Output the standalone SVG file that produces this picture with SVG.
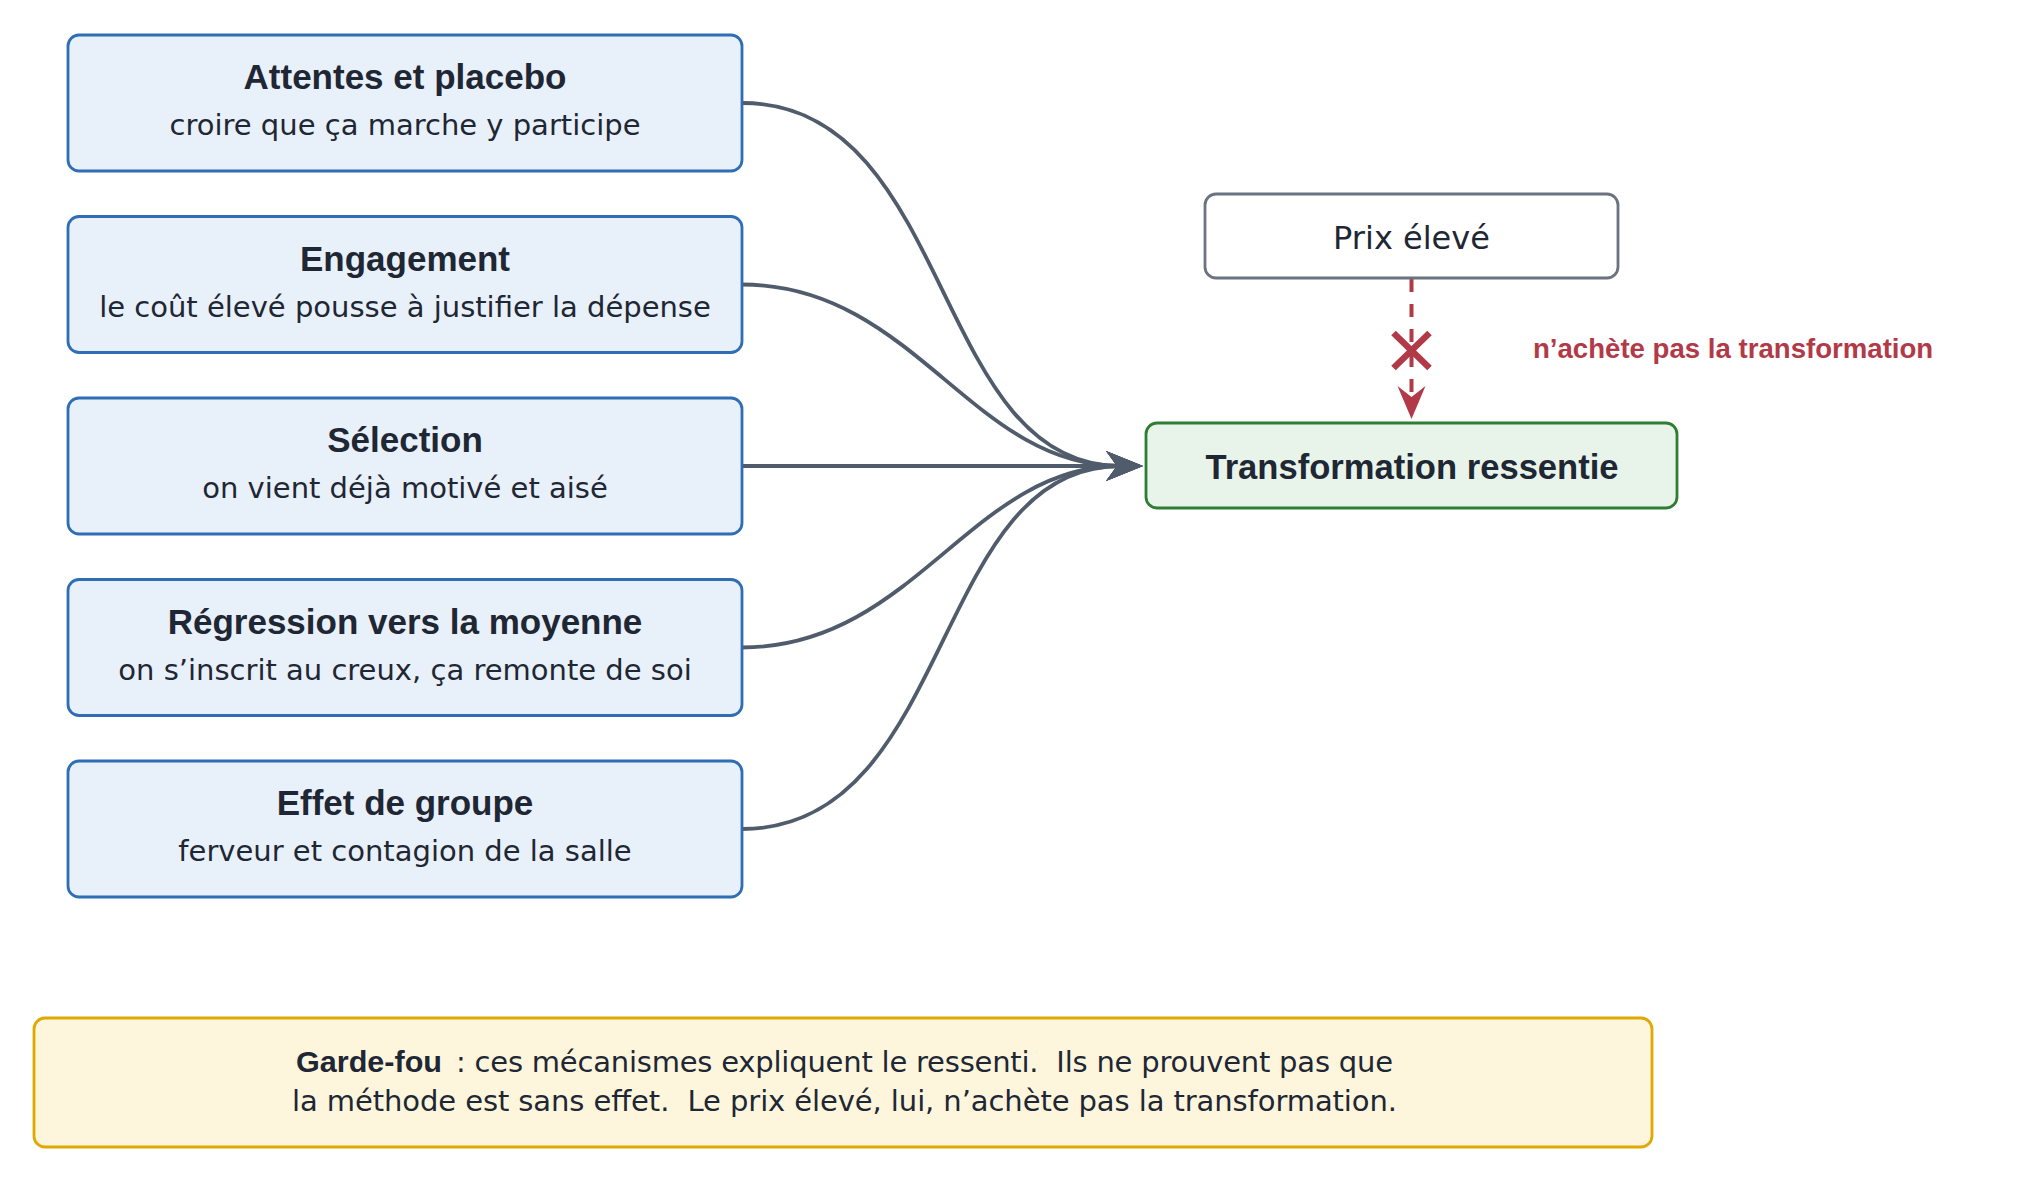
<svg xmlns="http://www.w3.org/2000/svg" width="2041" height="1182" viewBox="0 0 2041 1182">
<defs>
<style>
.src rect{fill:#e8f0fa;stroke:#2f6db5;stroke-width:2.8}
.t{font-family:"Liberation Sans",Arial,sans-serif;font-weight:bold;fill:#1e2733;text-anchor:middle}
.r{font-family:"DejaVu Sans",sans-serif;fill:#1e2733;text-anchor:middle}
.edge{fill:none;stroke:#505c6b;stroke-width:3.8}
</style>
<marker id="ah" markerUnits="userSpaceOnUse" markerWidth="44" markerHeight="44" viewBox="-18 -22 44 44" refX="0" refY="0" orient="auto">
<path d="M23,0 L-14,-15 L-3,0 L-14,15 Z" fill="#505c6b"/>
</marker>
<marker id="ahr" markerUnits="userSpaceOnUse" markerWidth="44" markerHeight="44" viewBox="-22 -22 44 44" refX="0" refY="0" orient="auto">
<path d="M21,0 L-12,-14 L-1,0 L-12,14 Z" fill="#b23a48"/>
</marker>
</defs>
<rect width="2041" height="1182" fill="#ffffff"/>

<g id="connectors">
<path class="edge" d="M742,103 C954,103 931,466 1120,466" marker-end="url(#ah)"/>
<path class="edge" d="M742,284.5 C914,284.5 971,466 1120,466" marker-end="url(#ah)"/>
<path class="edge" d="M742,466 L1120,466" marker-end="url(#ah)"/>
<path class="edge" d="M742,647.5 C914,647.5 971,466 1120,466" marker-end="url(#ah)"/>
<path class="edge" d="M742,829 C954,829 931,466 1120,466" marker-end="url(#ah)"/>
<path d="M1411.5,279 L1411.5,398" fill="none" stroke="#b23a48" stroke-width="4" stroke-dasharray="13 12" marker-end="url(#ahr)"/>
<path d="M1393.5,333 L1429.5,368 M1429.5,333 L1393.5,368" stroke="#b23a48" stroke-width="6.5" fill="none"/>
<text x="1533" y="358" font-family="Liberation Sans, Arial, sans-serif" font-weight="bold" font-size="27.6" fill="#b23a48">n’achète pas la transformation</text>
</g>

<g id="n1" class="src">
<rect x="68" y="35" width="674" height="136" rx="11"/>
<text class="t" x="405" y="89" font-size="35">Attentes et placebo</text>
<text class="r" x="405" y="135" font-size="29">croire que ça marche y participe</text>
</g>
<g id="n2" class="src">
<rect x="68" y="216.5" width="674" height="136" rx="11"/>
<text class="t" x="405" y="270.5" font-size="35">Engagement</text>
<text class="r" x="405" y="316.5" font-size="29">le coût élevé pousse à justifier la dépense</text>
</g>
<g id="n3" class="src">
<rect x="68" y="398" width="674" height="136" rx="11"/>
<text class="t" x="405" y="452" font-size="35">Sélection</text>
<text class="r" x="405" y="498" font-size="29">on vient déjà motivé et aisé</text>
</g>
<g id="n4" class="src">
<rect x="68" y="579.5" width="674" height="136" rx="11"/>
<text class="t" x="405" y="633.5" font-size="35">Régression vers la moyenne</text>
<text class="r" x="405" y="679.5" font-size="29">on s’inscrit au creux, ça remonte de soi</text>
</g>
<g id="n5" class="src">
<rect x="68" y="761" width="674" height="136" rx="11"/>
<text class="t" x="405" y="815" font-size="35">Effet de groupe</text>
<text class="r" x="405" y="861" font-size="29">ferveur et contagion de la salle</text>
</g>

<g id="prix">
<rect x="1205" y="194" width="413" height="84" rx="11" fill="#ffffff" stroke="#6b7280" stroke-width="2.8"/>
<text class="r" x="1411.5" y="249" font-size="32">Prix élevé</text>
</g>

<g id="transformation">
<rect x="1146" y="423" width="531" height="85" rx="11" fill="#e8f4ea" stroke="#2e7d32" stroke-width="2.8"/>
<text class="t" x="1412" y="479" font-size="34.6">Transformation ressentie</text>
</g>

<g id="note">
<rect x="34" y="1018" width="1618" height="129" rx="11" fill="#fdf6dd" stroke="#e0a800" stroke-width="2.8"/>
<text x="296" y="1072" font-family="Liberation Sans, Arial, sans-serif" font-weight="bold" font-size="30" fill="#1e2733" textLength="146" lengthAdjust="spacingAndGlyphs">Garde-fou</text>
<text x="456" y="1072" font-family="DejaVu Sans, sans-serif" font-size="29" fill="#1e2733" textLength="937" lengthAdjust="spacing" xml:space="preserve">: ces mécanismes expliquent le ressenti.  Ils ne prouvent pas que</text>
<text x="292" y="1111" font-family="DejaVu Sans, sans-serif" font-size="29" fill="#1e2733" textLength="1105" lengthAdjust="spacing" xml:space="preserve">la méthode est sans effet.  Le prix élevé, lui, n’achète pas la transformation.</text>
</g>
</svg>
